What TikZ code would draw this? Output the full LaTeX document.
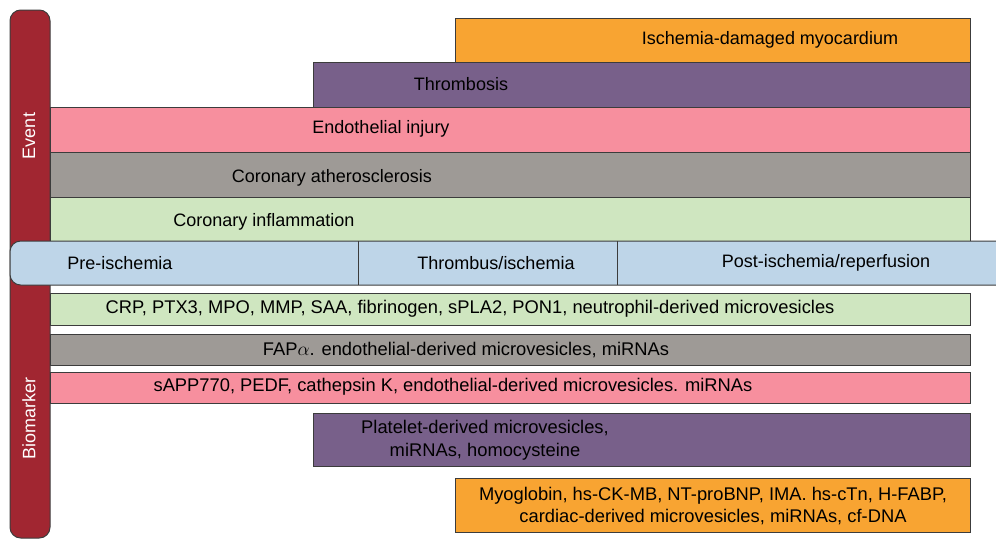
\documentclass[tikz,border=0pt]{standalone}
\usepackage{fontspec}
\setmainfont{Liberation Sans}
\definecolor{barred}{RGB}{161,38,49}
\definecolor{evorange}{RGB}{248,164,50}
\definecolor{evpurple}{RGB}{120,96,138}
\definecolor{evpink}{RGB}{247,143,158}
\definecolor{evgray}{RGB}{158,154,150}
\definecolor{evgreen}{RGB}{207,230,192}
\definecolor{tlblue}{RGB}{190,213,232}
\definecolor{edge}{RGB}{60,60,60}
\begin{document}
\begin{tikzpicture}[x=0.75pt,y=-0.75pt,
  box/.style={draw=edge,line width=0.75pt},
  lbl/.style={inner sep=0pt,font=\fontsize{13.5}{16.5}\selectfont,text=black},
  blbl/.style={inner sep=0pt,font=\fontsize{13.75}{17}\selectfont,text=black},
  side/.style={inner sep=0pt,font=\fontsize{13.5}{16.5}\selectfont,text=white,rotate=90}]
\useasboundingbox (0,0) rectangle (996,540);
% side bar
\path[box,fill=barred,rounded corners=8] (10,10) rectangle (50,538);
\node[side] (event) at (29,136) {Event};
\node[side] (biomarker) at (29,418) {Biomarker};
% event boxes
\path[box,fill=evorange] (455,18) rectangle (970,62);
\node[lbl] (e1) at (770,40) {Ischemia-damaged myocardium};
\path[box,fill=evpurple] (313,62) rectangle (970,107);
\node[lbl] (e2) at (461,84) {Thrombosis};
\path[box,fill=evpink] (50,107) rectangle (970,152);
\node[lbl] (e3) at (381,129) {Endothelial injury};
\path[box,fill=evgray] (50,152) rectangle (970,197);
\node[lbl] (e4) at (332,178) {Coronary atherosclerosis};
\path[box,fill=evgreen] (50,197) rectangle (970,241);
\node[lbl] (e5) at (264,222) {Coronary inflammation};
% timeline
\fill[tlblue,rounded corners=8] (996,241) -- (10,241) -- (10,285) [sharp corners] -- (996,285) -- cycle;
\draw[edge,line width=0.75pt,rounded corners=8] (996,241) -- (10,241) -- (10,285) -- (996,285);
\draw[edge,line width=0.75pt] (358,241) -- (358,285);
\draw[edge,line width=0.75pt] (617,241) -- (617,285);
\node[lbl] (t1) at (120,263) {Pre-ischemia};
\node[lbl] (t2) at (496,263) {Thrombus/ischemia};
\node[lbl] (t3) at (826,263) {Post-ischemia/reperfusion};
% biomarker boxes
\path[box,fill=evgreen] (50,293) rectangle (970,325);
\node[blbl] (b1) at (470,309) {CRP, PTX3, MPO, MMP, SAA, fibrinogen, sPLA2, PON1, neutrophil-derived microvesicles};
\path[box,fill=evgray] (50,334) rectangle (970,365);
\node[blbl] (b2) at (466,350) {FAP$\alpha$. endothelial-derived microvesicles, miRNAs};
\path[box,fill=evpink] (50,372) rectangle (970,403);
\node[blbl] (b3) at (453,387) {sAPP770, PEDF, cathepsin K, endothelial-derived microvesicles. miRNAs};
\path[box,fill=evpurple] (313,413) rectangle (970,466);
\node[blbl,align=center] (b4) at (485,440) {Platelet-derived microvesicles,\\miRNAs, homocysteine};
\path[box,fill=evorange] (455,478) rectangle (970,532);
\node[blbl,align=center] (b5) at (713,506) {Myoglobin, hs-CK-MB, NT-proBNP, IMA. hs-cTn, H-FABP,\\cardiac-derived microvesicles, miRNAs, cf-DNA};
\end{tikzpicture}
\end{document}
